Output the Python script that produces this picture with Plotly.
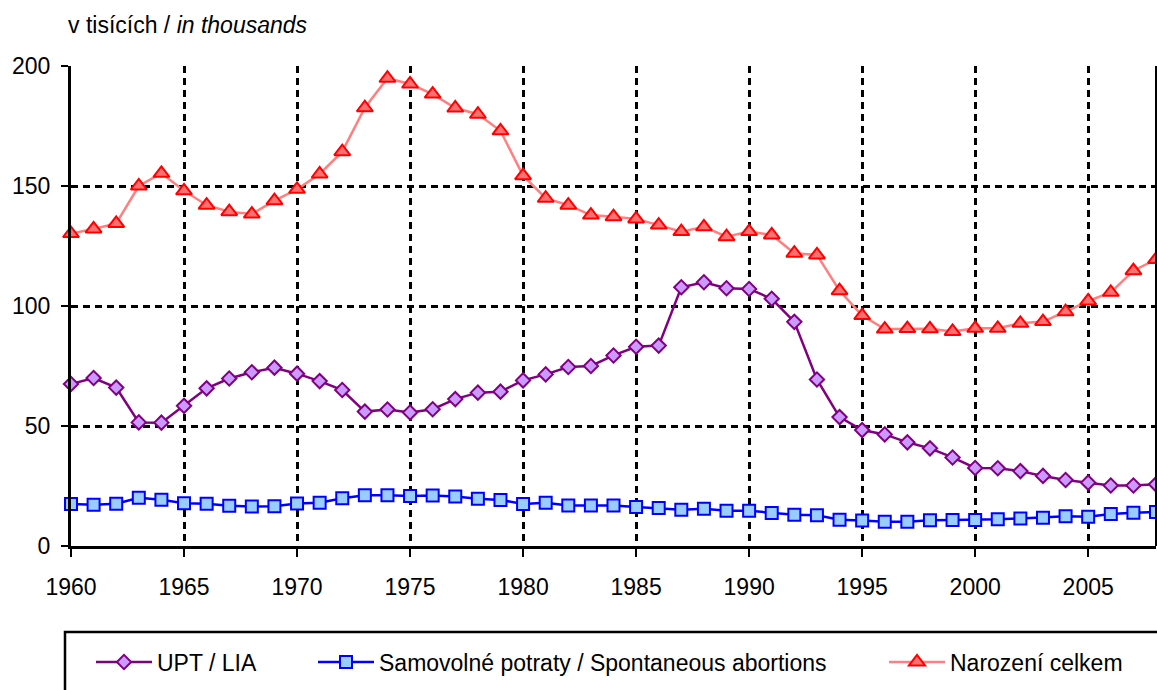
import plotly.graph_objects as go

years = list(range(1960, 2009))

upt_lia = [67.5, 70.0, 66.0, 51.5, 51.4, 58.4, 65.7, 69.8, 72.4, 74.3, 71.8, 68.7, 65.0, 56.0, 56.9,
           55.6, 57.0, 61.2, 63.9, 64.3, 69.0, 71.5, 74.6, 75.0, 79.4, 83.0, 83.5, 107.8, 109.9, 107.4,
           107.1, 103.0, 93.4, 69.4, 53.7, 48.3, 46.5, 43.2, 40.7, 36.9, 32.5, 32.4, 31.2, 29.2, 27.5,
           26.4, 25.2, 25.2, 25.7]

spontaneous = [17.5, 17.2, 17.6, 20.1, 19.3, 17.8, 17.6, 16.8, 16.5, 16.6, 17.7, 18.0, 19.9, 21.1, 21.1,
               20.8, 21.0, 20.6, 19.7, 19.2, 17.5, 18.0, 16.9, 16.9, 16.9, 16.3, 15.8, 15.1, 15.5, 14.7,
               14.7, 13.7, 13.0, 12.8, 10.9, 10.6, 10.1, 10.1, 10.7, 10.8, 10.8, 11.1, 11.5, 11.8, 12.4,
               12.2, 13.3, 13.9, 14.2]

births_total = [130.2, 132.1, 134.4, 150.0, 155.3, 148.0, 142.0, 139.3, 138.3, 143.9, 148.6, 155.0, 164.3,
                182.6, 194.9, 192.5, 188.3, 182.5, 179.9, 173.0, 154.3, 144.9, 142.0, 137.9, 137.2, 136.3,
                133.7, 131.0, 133.0, 128.9, 131.0, 129.6, 122.0, 121.3, 106.4, 96.0, 90.4, 90.6, 90.5,
                89.4, 90.7, 90.7, 92.8, 93.5, 97.6, 102.1, 105.7, 114.7, 119.4]

x_ticks = list(range(1960, 2006, 5))
y_ticks = [0, 50, 100, 150, 200]

names = ["UPT / LIA", "Samovolné potraty / Spontaneous abortions", "Narození celkem"]

FONT = "Liberation Sans, Arial, sans-serif"
FS = 23

fig = go.Figure()
fig.add_trace(go.Scatter(
    x=years, y=upt_lia, name=names[0], mode="lines+markers",
    line=dict(color="#800080", width=2.5),
    marker=dict(symbol="diamond", size=11, color="#CC99FF", line=dict(color="#800080", width=2)),
    cliponaxis=False, legend="legend"))
fig.add_trace(go.Scatter(
    x=years, y=spontaneous, name=names[1], mode="lines+markers",
    line=dict(color="#0000FF", width=2.5),
    marker=dict(symbol="square", size=12, color="#99CCFF", line=dict(color="#0000FF", width=2)),
    cliponaxis=False, legend="legend2"))
fig.add_trace(go.Scatter(
    x=years, y=births_total, name=names[2], mode="lines+markers",
    line=dict(color="#FF8080", width=2.5),
    marker=dict(symbol="triangle-up", size=14, color="#FF7070", line=dict(color="#FF0000", width=2)),
    cliponaxis=False, legend="legend3"))

W, H = 1157, 690
L, R, T, B = 71, 1, 66, 144
PW, PH = W - L - R, H - T - B


def px_x(p):
    return (p - L) / PW


def px_y(p):
    return (H - B - p) / PH


leg_common = dict(orientation="h", yanchor="middle", y=px_y(662), xanchor="left",
                  bgcolor="rgba(0,0,0,0)", borderwidth=0, itemwidth=56,
                  font=dict(family=FONT, size=FS, color="black"))

fig.update_layout(
    width=W, height=H,
    margin=dict(l=L, r=R, t=T, b=B),
    paper_bgcolor="white", plot_bgcolor="white",
    font=dict(family=FONT, size=FS, color="black"),
    showlegend=True,
    legend=dict(x=px_x(91), **leg_common),
    legend2=dict(x=px_x(313), **leg_common),
    legend3=dict(x=px_x(884), **leg_common),
    xaxis=dict(range=[1960, 2008], tickvals=x_ticks, ticktext=[str(v) for v in x_ticks],
               showgrid=True, gridcolor="black", gridwidth=3, griddash="7px,5px",
               showline=True, linecolor="black", linewidth=3,
               ticks="outside", ticklen=8, tickwidth=2, tickcolor="black",
               ticklabelstandoff=10, zeroline=False,
               tickfont=dict(family=FONT, size=FS, color="black")),
    yaxis=dict(range=[0, 200], tickvals=y_ticks,
               showgrid=True, gridcolor="black", gridwidth=3, griddash="7px,5px",
               showline=True, linecolor="black", linewidth=3,
               ticks="outside", ticklen=7, tickwidth=2, tickcolor="black",
               ticklabelstandoff=6, zeroline=False,
               tickfont=dict(family=FONT, size=FS, color="black")),
    annotations=[dict(text="v tisících / <i>in thousands</i>", xref="paper", yref="paper",
                      x=px_x(66), y=px_y(25), xanchor="left", yanchor="middle", showarrow=False,
                      font=dict(family=FONT, size=FS, color="black"))],
    shapes=[
        dict(type="line", xref="paper", yref="paper", x0=1, x1=1, y0=0, y1=1,
             line=dict(color="black", width=2), layer="above"),
        dict(type="rect", xref="paper", yref="paper", x0=px_x(65), x1=1.01, y0=px_y(632), y1=px_y(720),
             line=dict(color="black", width=2.5), fillcolor="rgba(0,0,0,0)", layer="above"),
    ],
)

fig.write_html(
    "out.html",
    config={"displayModeBar": False},
    post_script="document.body.style.margin='0';document.body.style.padding='0';"
                "document.body.style.overflow='hidden';"
                "document.documentElement.style.overflow='hidden';",
)
